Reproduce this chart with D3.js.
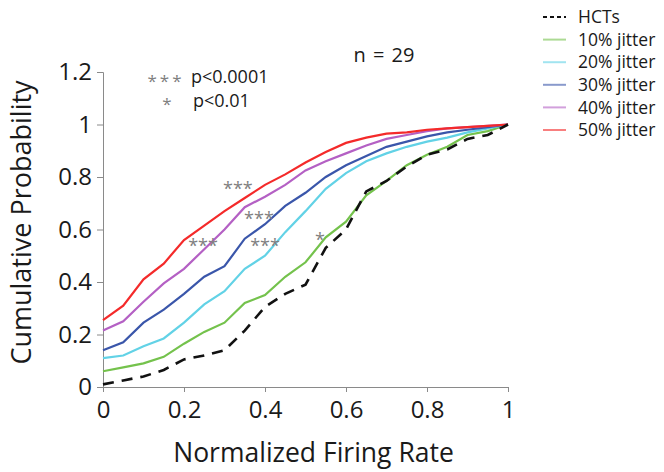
<!DOCTYPE html>
<html>
<head>
<meta charset="utf-8">
<script src="https://cdn.jsdelivr.net/npm/d3@7"></script>
<style>
  body { margin: 0; background: #fff; }
  text { font-family: "Open Sans", Lato, sans-serif; fill: #1a1a1a; }
  .axis path, .axis line { stroke: #8a8a8a; }
  .axis text { font-size: 24px; }
</style>
</head>
<body>
<script>
 ///////////////////////////////////////////////////////
 // data

 var rates = [0, 0.05, 0.1, 0.15, 0.2, 0.25, 0.3, 0.35, 0.4, 0.45, 0.5,
              0.55, 0.6, 0.65, 0.7, 0.75, 0.8, 0.85, 0.9, 0.95, 1];
 var hcts   = [0.01, 0.025, 0.04, 0.065, 0.105, 0.12, 0.14, 0.215, 0.305, 0.355, 0.39,
               0.53, 0.6, 0.745, 0.785, 0.84, 0.885, 0.905, 0.945, 0.96, 1];
 var jit10  = [0.06, 0.075, 0.09, 0.115, 0.165, 0.21, 0.245, 0.32, 0.35, 0.42, 0.475,
               0.57, 0.63, 0.73, 0.785, 0.845, 0.885, 0.915, 0.96, 0.975, 1];
 var jit20  = [0.11, 0.12, 0.155, 0.185, 0.245, 0.315, 0.365, 0.45, 0.5, 0.59, 0.67,
               0.755, 0.815, 0.86, 0.89, 0.915, 0.935, 0.95, 0.97, 0.985, 1];
 var jit30  = [0.14, 0.17, 0.245, 0.295, 0.355, 0.42, 0.46, 0.565, 0.62, 0.69, 0.74,
               0.8, 0.845, 0.88, 0.915, 0.935, 0.955, 0.97, 0.98, 0.99, 1];
 var jit40  = [0.215, 0.25, 0.325, 0.395, 0.45, 0.525, 0.6, 0.685, 0.725, 0.77, 0.825,
               0.86, 0.89, 0.92, 0.945, 0.96, 0.975, 0.985, 0.99, 0.995, 1];
 var jit50  = [0.255, 0.31, 0.41, 0.47, 0.56, 0.615, 0.67, 0.72, 0.77, 0.81, 0.855,
               0.895, 0.93, 0.95, 0.965, 0.97, 0.98, 0.985, 0.99, 0.995, 1];
 var seriesNames = ["HCTs", "10% jitter", "20% jitter", "30% jitter", "40% jitter", "50% jitter"];
 var seriesValues = [hcts, jit10, jit20, jit30, jit40, jit50];
 var xTicks = [0, 0.2, 0.4, 0.6, 0.8, 1];
 var yTicks = [0, 0.2, 0.4, 0.6, 0.8, 1, 1.2];

 // significance marks: [rate, probability, label]
 var sigMarks = [
   [0.333, 0.78, "***"],
   [0.385, 0.667, "***"],
   [0.247, 0.564, "***"],
   [0.4, 0.564, "***"],
   [0.536, 0.587, "*"]
 ];

 ///////////////////////////////////////////////////////
 // margins

 var w = 664;
 var h = 472;
 var svg = d3.select("body").append("svg")
   .attr("width", w)
   .attr("height", h),
   margin = { top: 72, bottom: 85, left: 103, right: 156 },
   width = w - margin.left - margin.right,
   height = h - margin.top - margin.bottom;

 ///////////////////////////////////////////////////////
 // scales

 var x = d3.scaleLinear().domain([0, 1]).range([0, width]);
 var y = d3.scaleLinear().domain([0, 1.2]).range([height, 0]);
 var colors = ["#111111", "#74c24c", "#62d2e6", "#3a56aa", "#b460c4", "#f42a2a"];

 var xAxis = d3.axisBottom(x)
   .tickValues(xTicks)
   .tickSizeOuter(0)
   .tickSize(5)
   .tickPadding(7)
   .tickFormat(function(d) { return d3.format("")(d); });
 var yAxis = d3.axisLeft(y)
   .tickValues(yTicks)
   .tickSizeOuter(0)
   .tickSize(6)
   .tickPadding(5)
   .tickFormat(function(d) { return +d.toFixed(1); });

 var chart = svg.append("g")
   .attr("transform", "translate(" + margin.left + "," + margin.top + ")");

 ///////////////////////////////////////////////////////
 // axes

 chart.append("g")
   .classed("axis x", true)
   .attr("transform", "translate(0," + height + ")")
   .call(xAxis)
   .selectAll("text").attr("dy", "0.8em");
 chart.append("g")
   .classed("axis y", true)
   .call(yAxis);

 chart.append("text")
   .attr("x", width / 2 + 8)
   .attr("y", height + 75)
   .attr("text-anchor", "middle")
   .style("font-size", "26.5px")
   .text("Normalized Firing Rate");
 chart.append("text")
   .attr("transform", "translate(-72," + (height / 2 - 7) + ") rotate(-90)")
   .attr("text-anchor", "middle")
   .style("font-size", "27px")
   .text("Cumulative Probability");

 ///////////////////////////////////////////////////////
 // lines

 var line = d3.line()
   .x(function(d, i) { return x(rates[i]); })
   .y(function(d) { return y(d); });

 // draw HCTs last so the dashes sit on top
 [1, 2, 3, 4, 5, 0].forEach(function(k) {
   chart.append("path")
     .datum(seriesValues[k])
     .attr("fill", "none")
     .attr("stroke", colors[k])
     .attr("stroke-width", k === 0 ? 2.6 : 2.2)
     .attr("stroke-dasharray", k === 0 ? "11,8" : null)
     .attr("d", line);
 });

 // significance stars
 chart.selectAll(".sig")
   .data(sigMarks)
   .enter().append("text")
   .classed("sig", true)
   .attr("x", function(d) { return x(d[0]); })
   .attr("y", function(d) { return y(d[1]); })
   .attr("dy", "0.7em")
   .attr("text-anchor", "middle")
   .style("font-size", "18px")
   .style("fill", "#808080")
   .text(function(d) { return d[2]; });

 // p-value key
 var key = chart.append("g");
 key.append("text").attr("x", 63).attr("y", 3).attr("dy", "0.7em")
   .attr("text-anchor", "middle").style("font-size", "17px").style("letter-spacing", "3px")
   .style("fill", "#808080").text("***");
 key.append("text").attr("x", 88).attr("y", 11)
   .style("font-size", "18px").text("p<0.0001");
 key.append("text").attr("x", 64).attr("y", 26).attr("dy", "0.7em")
   .attr("text-anchor", "middle").style("font-size", "17px")
   .style("fill", "#808080").text("*");
 key.append("text").attr("x", 90).attr("y", 35)
   .style("font-size", "18px").text("p<0.01");

 chart.append("text")
   .attr("x", 281)
   .attr("y", -10)
   .attr("text-anchor", "middle")
   .style("font-size", "20px")
   .style("word-spacing", "2px")
   .text("n = 29");

 ///////////////////////////////////////////////////////
 // legend

 var legend = svg.append("g")
   .attr("transform", "translate(543,17)");
 var rows = legend.selectAll(".row")
   .data(seriesNames)
   .enter().append("g")
   .attr("transform", function(d, i) { return "translate(0," + (i * 22.6) + ")"; });
 rows.append("line")
   .attr("x1", 0).attr("x2", 23)
   .attr("stroke", function(d, i) { return colors[i]; })
   .attr("stroke-opacity", function(d, i) { return i === 0 ? 1 : 0.6; })
   .attr("stroke-width", 2)
   .attr("stroke-dasharray", function(d, i) { return i === 0 ? "4,3" : null; });
 rows.append("text")
   .attr("x", 35)
   .attr("dy", "0.35em")
   .style("font-size", "17.5px")
   .text(function(d) { return d; });
</script>
</body>
</html>
